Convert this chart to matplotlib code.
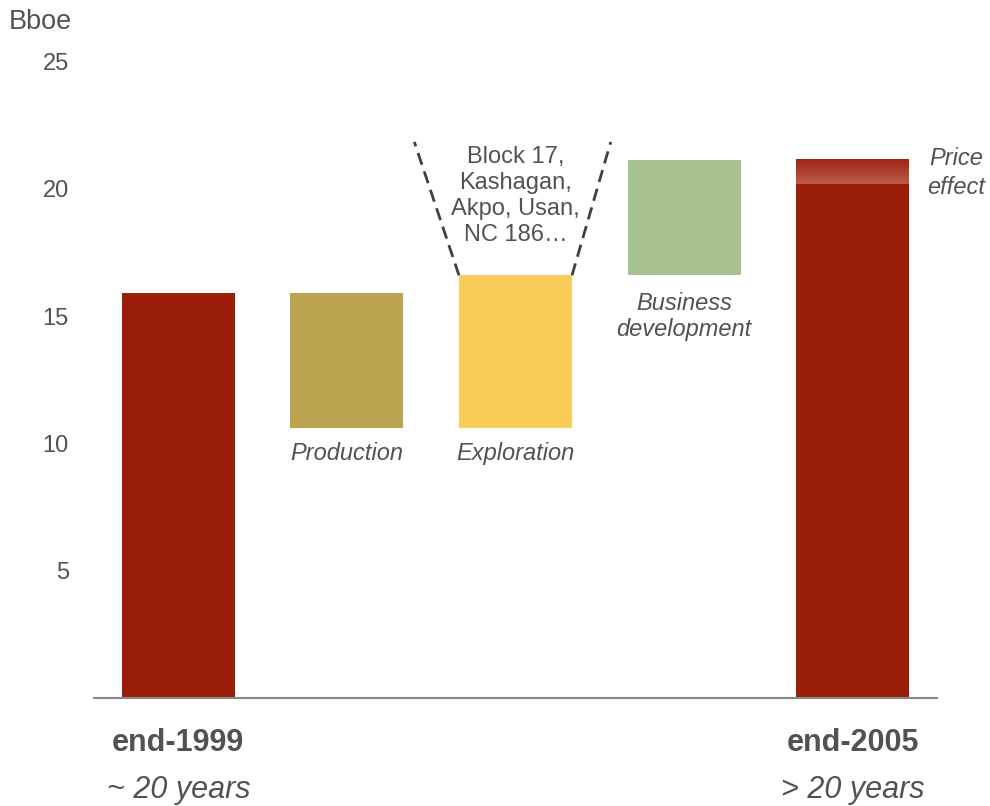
import numpy as np
import matplotlib
matplotlib.use("Agg")
import matplotlib.pyplot as plt
from matplotlib.colors import LinearSegmentedColormap

plt.rcParams['font.family'] = ['Liberation Sans', 'DejaVu Sans']

# Reserves walk, Bboe
categories = ['end-1999', 'Production', 'Exploration', 'Business\ndevelopment', 'end-2005']
start_value = 15.9
changes = [-5.3, 6.0, 4.55]
price_effect = 0.95
horizons = ['~ 20 years', '> 20 years']
projects = 'Block 17,\nKashagan,\nAkpo, Usan,\nNC 186\u2026'
yticks = [5, 10, 15, 20, 25]

RED = '#9B1E0B'
step_colors = ['#BBA24F', '#F9CD5A', '#A7C191']
TEXT = '#525252'

# build bottoms / heights for the waterfall
end_value = start_value + sum(changes)
bottoms = [0]
heights = [start_value]
level = start_value
for c in changes:
    bottoms.append(min(level, level + c))
    heights.append(abs(c))
    level += c
bottoms.append(0)
heights.append(end_value)
colors = [RED] + step_colors + [RED]

fig = plt.figure(figsize=(9.9, 8.06), dpi=100)
ax = fig.add_axes([0.0949, 0.1346, 0.8516, 0.7887])

x = np.arange(len(categories))
width = 0.67
ax.bar(x, heights, width, bottom=bottoms, color=colors, zorder=2)

# price effect band at the top of the end-2005 bar
cmap = LinearSegmentedColormap.from_list('band', ['#9E2514', '#BC5B4A'])
grad = np.linspace(0, 1, 64).reshape(-1, 1)
ax.imshow(grad, cmap=cmap, aspect='auto', origin='upper', zorder=3,
          extent=(x[-1] - width / 2, x[-1] + width / 2,
                  end_value - price_effect, end_value))

ax.set_xlim(-0.5, len(categories) - 0.5)
ax.set_ylim(0, 25)
ax.set_yticks(yticks)
ax.set_xticks([])
ax.tick_params(axis='y', length=0, pad=18, labelsize=17, labelcolor=TEXT)
for side in ['left', 'right', 'top']:
    ax.spines[side].set_visible(False)
ax.spines['bottom'].set_color('#888888')
ax.spines['bottom'].set_linewidth(1.5)

fig.text(0.009, 0.973, 'Bboe', fontsize=19.5, color=TEXT, ha='left', va='center')

# labels for the movement bars
for i in range(1, 4):
    if '\n' not in categories[i]:
        ax.text(x[i], bottoms[i] - 1.0, categories[i], ha='center', va='center',
                fontsize=17, style='italic', color=TEXT)
    else:
        ax.text(x[i], bottoms[i] - 1.62, categories[i], ha='center', va='center',
                fontsize=17, style='italic', color=TEXT, linespacing=1.2)

# start / end labels under the axis
for i, h in zip([0, len(categories) - 1], horizons):
    ax.text(x[i], -1.8, categories[i], ha='center', va='center', fontsize=22,
            fontweight='bold', color=TEXT, clip_on=False)
    ax.text(x[i], -3.65, h, ha='center', va='center', fontsize=22,
            style='italic', color=TEXT, clip_on=False)

ax.text(x[-1] + 0.614, end_value - price_effect / 2 - 0.04, 'Price\neffect',
        ha='center', va='center', fontsize=17, style='italic', color=TEXT,
        linespacing=1.3)

# exploration call-out
expl_top = bottoms[2] + heights[2]
ax.plot([x[2] - width / 2, x[2] - 0.6], [expl_top, 21.85], ls=(0, (4.5, 2.5)),
        color='#404040', lw=2, zorder=1)
ax.plot([x[2] + width / 2, x[2] + 0.565], [expl_top, 21.85], ls=(0, (4.5, 2.5)),
        color='#404040', lw=2, zorder=1)
ax.text(x[2], 19.72, projects, ha='center', va='center', fontsize=17,
        color=TEXT, linespacing=1.25)

fig.savefig('out.png', dpi=100)
